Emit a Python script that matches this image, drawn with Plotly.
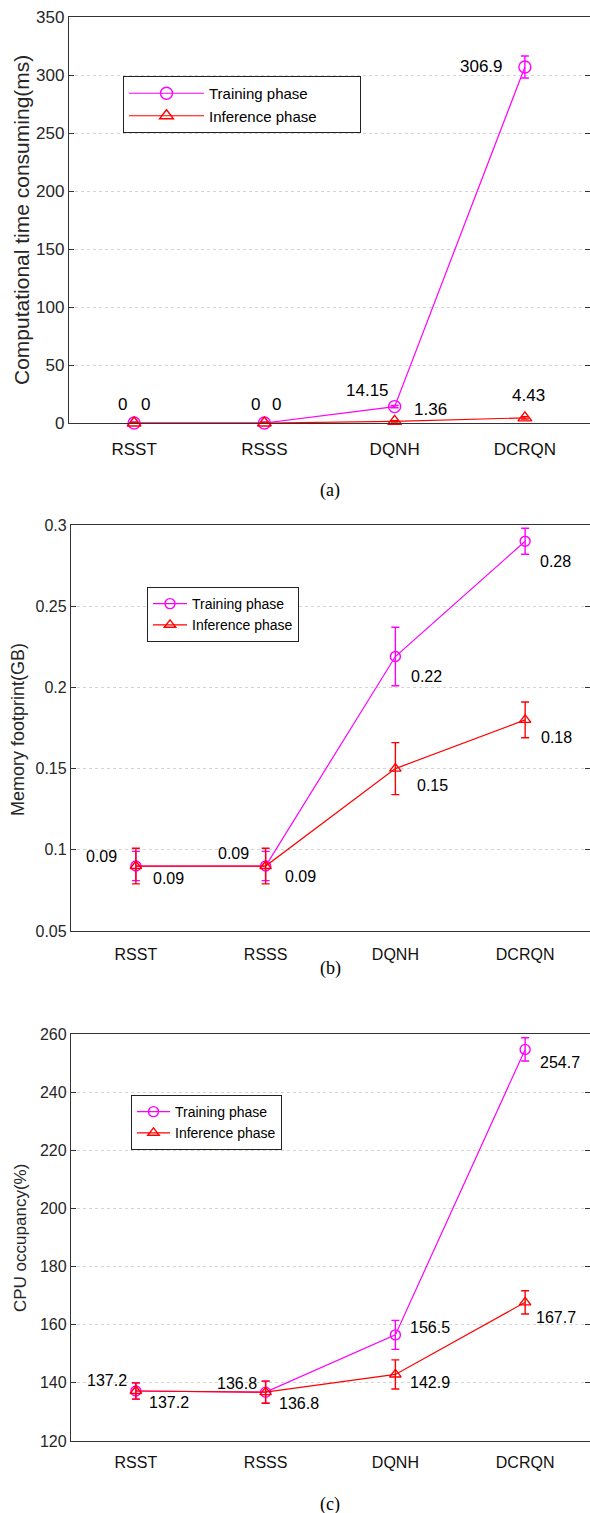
import plotly.graph_objects as go

W, H = 590, 1513

# ---------------- data ----------------
categories = ["RSST", "RSSS", "DQNH", "DCRQN"]
cat_pos = [1, 2, 3, 4]
series_names = ["Training phase", "Inference phase"]

# (a) computational time (ms)
time_train = [0, 0, 14.15, 306.9]
time_train_err = [0.8, 0.8, 1.0, 9.5]
time_infer = [0, 0, 1.36, 4.43]
time_infer_err = [0.5, 0.5, 0.6, 1.0]
time_train_lbl = ["0", "0", "14.15", "306.9"]
time_infer_lbl = ["0", "0", "1.36", "4.43"]

# (b) memory footprint (GB)
mem_train = [0.09, 0.09, 0.219, 0.29]
mem_train_err = [0.009, 0.009, 0.018, 0.008]
mem_infer = [0.09, 0.09, 0.15, 0.18]
mem_infer_err = [0.011, 0.011, 0.016, 0.011]
mem_train_lbl = ["0.09", "0.09", "0.22", "0.28"]
mem_infer_lbl = ["0.09", "0.09", "0.15", "0.18"]

# (c) CPU occupancy (%)
cpu_train = [137.2, 136.8, 156.5, 254.7]
cpu_train_err = [2.8, 3.8, 5.0, 4.0]
cpu_infer = [137.2, 136.8, 142.9, 167.7]
cpu_infer_err = [2.8, 3.8, 5.0, 4.0]
cpu_train_lbl = ["137.2", "136.8", "156.5", "254.7"]
cpu_infer_lbl = ["137.2", "136.8", "142.9", "167.7"]

# ---------------- style ----------------
MAG = "#ff00ff"
RED = "#ff0000"
FONT = "Liberation Sans"
AXC = "#333333"


def py(p):
    return 1 - p / H


def px(p):
    return p / W


fig = go.Figure()

panels = [
    dict(k="a", xa="x", ya="y", leg="legend", tr=time_train, tre=time_train_err, inf=time_infer,
         infe=time_infer_err, msize=12, ew=4, pad=9),
    dict(k="b", xa="x2", ya="y2", leg="legend2", tr=mem_train, tre=mem_train_err, inf=mem_infer,
         infe=mem_infer_err, msize=10, ew=4, pad=0),
    dict(k="c", xa="x3", ya="y3", leg="legend3", tr=cpu_train, tre=cpu_train_err, inf=cpu_infer,
         infe=cpu_infer_err, msize=10, ew=4, pad=0),
]

for p in panels:
    sp = "\u00a0" * p["pad"]
    fig.add_trace(go.Scatter(
        x=cat_pos, y=p["tr"], mode="lines+markers", name=series_names[0] + sp,
        xaxis=p["xa"], yaxis=p["ya"], legend=p["leg"], legendgroup=p["k"] + "tr", cliponaxis=False,
        line=dict(color=MAG, width=1.2),
        marker=dict(symbol="circle-open", size=p["msize"], color=MAG, line=dict(width=1.4)),
        error_y=dict(type="data", array=p["tre"], color=MAG, thickness=1.4, width=p["ew"]),
    ))
    fig.add_trace(go.Scatter(
        x=cat_pos, y=p["inf"], mode="lines+markers", name=series_names[1] + sp,
        xaxis=p["xa"], yaxis=p["ya"], legend=p["leg"], legendgroup=p["k"] + "in", cliponaxis=False,
        line=dict(color=RED, width=1.2),
        marker=dict(symbol="triangle-up-open", size=p["msize"], color=RED, line=dict(width=1.4)),
        error_y=dict(type="data", array=p["infe"], color=RED, thickness=1.4, width=p["ew"]),
    ))

annotations = []

# value labels: (dx, dy, xanchor) offsets per point
offs = {
    "a_tr": [(-12, 19, "center"), (-9, 19, "center"), (-4, 16, "right"), (-20, 1, "right")],
    "a_in": [(11, 19, "center"), (12, 19, "center"), (17, 12, "left"), (4, 22, "center")],
    "b_tr": [(-17, 10, "right"), (-15, 13, "right"), (14, -20, "left"), (13, -20, "left")],
    "b_in": [(15, -12, "left"), (17, -10, "left"), (20, -17, "left"), (14, -18, "left")],
    "c_tr": [(-7, 11, "right"), (-7, 9, "right"), (13, 7, "left"), (13, -13, "left")],
    "c_in": [(11, -11, "left"), (11, -11, "left"), (13, -8, "left"), (9, -15, "left")],
}
label_sets = [
    ("a_tr", time_train, time_train_lbl, "x", "y", 17),
    ("a_in", time_infer, time_infer_lbl, "x", "y", 17),
    ("b_tr", mem_train, mem_train_lbl, "x2", "y2", 16),
    ("b_in", mem_infer, mem_infer_lbl, "x2", "y2", 16),
    ("c_tr", cpu_train, cpu_train_lbl, "x3", "y3", 16),
    ("c_in", cpu_infer, cpu_infer_lbl, "x3", "y3", 16),
]
for key, vals, lbls, xr, yr, fs in label_sets:
    for i, (v, t) in enumerate(zip(vals, lbls)):
        dx, dy, xa = offs[key][i]
        annotations.append(dict(
            x=cat_pos[i], y=v, xref=xr, yref=yr, text=t, showarrow=False,
            xanchor=xa, yanchor="middle", xshift=dx, yshift=dy,
            font=dict(family=FONT, size=fs, color="black"),
        ))

# y-axis titles
ytitles = [
    ("Computational time consuming(ms)", 21, 220, 21),
    ("Memory footprint(GB)", 18, 730, 18),
    ("CPU occupancy(%)", 20, 1238, 17),
]
for t, xx, yy, fs in ytitles:
    annotations.append(dict(
        x=px(xx), y=py(yy), xref="paper", yref="paper", text=t, showarrow=False,
        textangle=-90, xanchor="center", yanchor="middle",
        font=dict(family=FONT, size=fs, color="#262626"),
    ))

# captions
for t, yy in [("(a)", 490), ("(b)", 968), ("(c)", 1504)]:
    annotations.append(dict(
        x=px(330), y=py(yy), xref="paper", yref="paper", text=t, showarrow=False,
        xanchor="center", yanchor="middle",
        font=dict(family="Liberation Serif", size=18, color="black"),
    ))


def xaxis(dom_left, anchor, fs, standoff):
    return dict(
        domain=[px(dom_left), 1.0], anchor=anchor, range=[0.5, 4.5],
        tickvals=cat_pos, ticktext=categories, ticks="",
        showline=True, mirror=True, linecolor=AXC, linewidth=1.3,
        showgrid=False, zeroline=False, ticklabelstandoff=standoff, automargin=False,
        tickfont=dict(family=FONT, size=fs, color="#111111"),
    )


def yaxis(top, bottom, anchor, rng, dtick, fs):
    return dict(
        domain=[py(bottom), py(top)], anchor=anchor, range=rng, dtick=dtick, tick0=rng[0],
        ticks="inside", ticklen=5, tickcolor=AXC, tickwidth=1,
        showline=True, mirror="ticks", linecolor=AXC, linewidth=1.3,
        showgrid=True, gridcolor="#d4d4d4", griddash="dot", gridwidth=1,
        zeroline=False, automargin=False,
        tickfont=dict(family=FONT, size=fs, color="#262626"),
    )


def legend(xl, yt, fs, gap, iw):
    return dict(
        x=px(xl), y=py(yt), xanchor="left", yanchor="top", xref="paper", yref="paper",
        bgcolor="white", bordercolor="#222222", borderwidth=1,
        font=dict(family=FONT, size=fs, color="black"), itemwidth=iw,
        traceorder="normal", tracegroupgap=gap,
    )


fig.update_layout(
    width=W, height=H, margin=dict(l=0, r=0, t=0, b=0, pad=0, autoexpand=False),
    paper_bgcolor="white", plot_bgcolor="white",
    xaxis=xaxis(69, "y", 17, 10),
    yaxis=yaxis(17, 423, "x", [0, 350], 50, 17),
    xaxis2=xaxis(71, "y2", 16, 9),
    yaxis2=yaxis(525, 931, "x2", [0.05, 0.3], 0.05, 16),
    xaxis3=xaxis(71, "y3", 16, 7),
    yaxis3=yaxis(1034, 1441, "x3", [120, 260], 20, 16),
    legend=legend(123, 76, 15, 5, 75),
    legend2=legend(147, 587, 14, 0, 34),
    legend3=legend(131, 1095, 14, 0, 33),
    annotations=annotations,
    showlegend=True,
)

fig.write_html(
    "out.html",
    config={"displayModeBar": False},
    post_script=(
        "document.documentElement.style.margin='0';document.documentElement.style.padding='0';"
        "document.body.style.margin='0';document.body.style.padding='0';"
        "document.documentElement.style.overflow='hidden';document.body.style.overflow='hidden';"
        "var gd=document.getElementById('{plot_id}');gd.style.position='fixed';"
        "gd.style.left='0px';gd.style.top='0px';"
    ),
)
